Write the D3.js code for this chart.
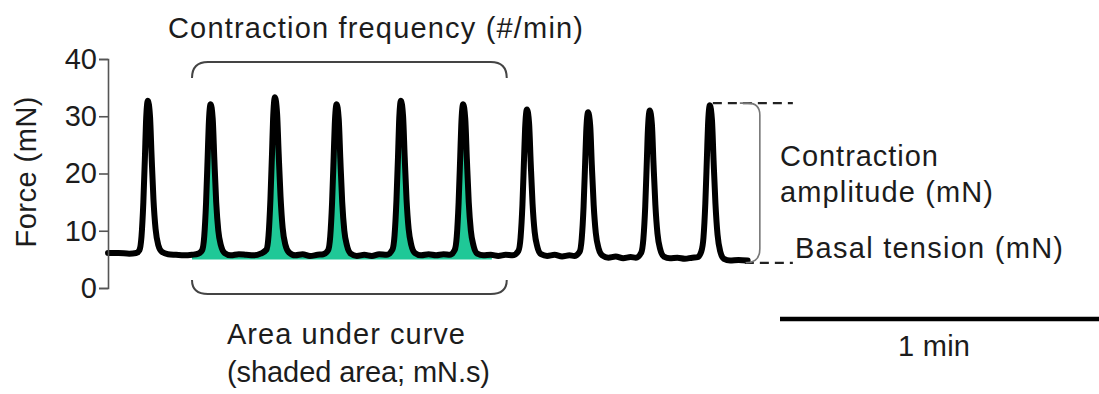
<!DOCTYPE html>
<html>
<head>
<meta charset="utf-8">
<script src="https://cdn.jsdelivr.net/npm/d3@7/dist/d3.min.js"></script>
<style>
  html, body { margin: 0; padding: 0; background: #fff; }
  svg { display: block; }
  text { font-family: "Liberation Sans", Arial, sans-serif; fill: #1c1c1c; }
</style>
</head>
<body>
<svg id="chart" width="1099" height="394"></svg>
<script>
// Force recording: time (s) and force (mN)
const traceTime = [
  0, 2.0, 4.0, 5.3,
  5.9, 6.3, 6.65, 6.95, 7.15, 7.5, 7.9, 8.2, 8.55, 8.95, 9.45, 10.15,
  11.3, 12.8, 14.3, 15.8, 17.0,
  17.7, 18.1, 18.45, 18.75, 18.95, 19.3, 19.7, 20.0, 20.35, 20.75, 21.25, 21.95,
  23.1, 24.6, 26.0, 27.4, 28.7,
  29.8, 30.2, 30.55, 30.85, 31.05, 31.4, 31.8, 32.1, 32.45, 32.85, 33.35, 34.05,
  35.2, 36.6, 38.0, 39.4, 40.5,
  41.4, 41.8, 42.15, 42.45, 42.65, 43.0, 43.4, 43.7, 44.05, 44.45, 44.95, 45.65,
  46.8, 48.2, 49.6, 51.0, 52.4,
  53.5, 53.9, 54.25, 54.55, 54.75, 55.1, 55.5, 55.8, 56.15, 56.55, 57.05, 57.75,
  58.9, 60.3, 61.7, 63.1, 64.3,
  65.2, 65.6, 65.95, 66.25, 66.45, 66.8, 67.2, 67.5, 67.85, 68.25, 68.75, 69.45,
  70.6, 72.0, 73.4, 74.8, 76.1,
  77.2, 77.6, 77.95, 78.25, 78.45, 78.8, 79.2, 79.5, 79.85, 80.25, 80.75, 81.45,
  82.6, 84.0, 85.4, 86.8, 87.7,
  88.7, 89.1, 89.45, 89.75, 89.95, 90.3, 90.7, 91.0, 91.35, 91.75, 92.25, 92.95,
  94.1, 95.5, 96.9, 98.3, 99.3,
  100.3, 100.7, 101.05, 101.35, 101.55, 101.9, 102.3, 102.6, 102.95, 103.35, 103.85, 104.55,
  105.7, 107.1, 108.5, 109.9, 110.9,
  111.6, 112.0, 112.35, 112.65, 112.85, 113.2, 113.6, 113.9, 114.25, 114.65, 115.15, 115.85,
  117.0, 118.6, 120.3
];
const traceForce = [
  6.1, 6.1, 6.0, 6.1,
  6.6, 9.0, 15.0, 23.0, 29.0, 32.7, 30.0, 23.0, 15.5, 10.3, 7.5, 6.3,
  5.9, 5.8, 5.7, 5.8, 6.0,
  6.6, 9.0, 15.0, 23.0, 28.5, 32.1, 29.5, 22.5, 15.0, 10.0, 7.4, 6.1,
  5.7, 5.9, 5.8, 5.7, 6.0,
  6.7, 9.2, 15.5, 23.5, 29.5, 33.3, 30.5, 23.5, 16.0, 10.5, 7.6, 6.2,
  5.7, 5.9, 5.6, 5.8, 5.9,
  6.6, 9.0, 15.0, 23.0, 28.5, 32.1, 29.5, 22.5, 15.0, 10.0, 7.4, 6.0,
  5.6, 5.8, 5.6, 5.9, 5.8,
  6.7, 9.2, 15.2, 23.0, 29.0, 32.7, 30.0, 23.0, 15.5, 10.3, 7.5, 6.1,
  5.7, 5.9, 5.7, 5.9, 5.8,
  6.6, 9.0, 15.0, 23.0, 28.5, 32.1, 29.5, 22.5, 15.0, 10.0, 7.4, 6.0,
  5.7, 5.8, 5.6, 5.8, 5.7,
  6.5, 8.8, 14.5, 22.5, 27.8, 31.2, 28.8, 22.0, 14.8, 9.8, 7.2, 5.9,
  5.6, 5.8, 5.5, 5.7, 5.6,
  6.3, 8.6, 14.2, 22.0, 27.3, 30.7, 28.3, 21.5, 14.5, 9.6, 7.0, 5.7,
  5.3, 5.5, 5.2, 5.4, 5.3,
  6.2, 8.6, 14.3, 22.2, 27.6, 31.0, 28.6, 21.8, 14.6, 9.5, 6.8, 5.5,
  5.2, 5.3, 5.1, 5.3, 5.4,
  6.4, 8.8, 14.8, 22.8, 28.3, 31.9, 29.3, 22.3, 14.8, 9.3, 6.4, 5.1,
  4.8, 4.9, 4.8
];

// Y axis ticks (mN)
const yTicks = [0, 10, 20, 30, 40];

// Annotated windows (s) and levels (mN)
const shadeWindow = [15.8, 72.2];
const braceWindow = [15.8, 75.0];
const shadeFloor = 5.0;
const lastPeakTime = 113.2;
const amplitudeTop = 32.3;
const basalLevel = 4.4;
const scaleBarSeconds = 60;

const svg = d3.select("#chart");

const x = d3.scaleLinear().domain([0, 60]).range([108, 427]);
const y = d3.scaleLinear().domain([0, 40]).range([288, 59]);

const data = traceTime.map((t, i) => ({ t, f: traceForce[i] }));

// Shaded area under the curve, clipped to the analysis window
svg.append("clipPath").attr("id", "shade-clip")
  .append("rect")
  .attr("x", x(shadeWindow[0]))
  .attr("width", x(shadeWindow[1]) - x(shadeWindow[0]))
  .attr("y", 0).attr("height", 394);

const area = d3.area()
  .x(d => x(d.t))
  .y0(y(shadeFloor))
  .y1(d => y(d.f))
  .curve(d3.curveMonotoneX);

svg.append("path")
  .datum(data)
  .attr("d", area)
  .attr("clip-path", "url(#shade-clip)")
  .attr("fill", "#1fc897");

// Force trace
const line = d3.line()
  .x(d => x(d.t))
  .y(d => y(d.f))
  .curve(d3.curveMonotoneX);

svg.append("path")
  .datum(data)
  .attr("d", line)
  .attr("fill", "none")
  .attr("stroke", "#000")
  .attr("stroke-width", 6)
  .attr("stroke-linejoin", "round")
  .attr("stroke-linecap", "round");

// Y axis
const yAxis = d3.axisLeft(y).tickValues(yTicks).tickSize(9).tickPadding(2);
const gy = svg.append("g").attr("transform", `translate(${x(0)},0)`).call(yAxis);
gy.select(".domain").attr("stroke", "#555").attr("stroke-width", 1.6);
gy.selectAll(".tick line").attr("stroke", "#555").attr("stroke-width", 1.6);
gy.selectAll(".tick text")
  .attr("font-family", "Liberation Sans, Arial, sans-serif")
  .attr("font-size", 29)
  .attr("fill", "#222");

svg.append("text")
  .attr("transform", `translate(36,172) rotate(-90)`)
  .attr("text-anchor", "middle")
  .attr("font-size", 29)
  .attr("textLength", 151)
  .text("Force (mN)");

// Top brace: contraction frequency
const bx0 = x(braceWindow[0]), bx1 = x(braceWindow[1]);
const r = 16;
svg.append("path")
  .attr("d", `M${bx0},78 Q${bx0},62 ${bx0 + r},62 H${bx1 - r} Q${bx1},62 ${bx1},78`)
  .attr("fill", "none").attr("stroke", "#444").attr("stroke-width", 2);

svg.append("text")
  .attr("x", 168).attr("y", 38)
  .attr("font-size", 29)
  .attr("textLength", 415)
  .text("Contraction frequency (#/min)");

// Bottom brace: area under curve
svg.append("path")
  .attr("d", `M${bx0},280 Q${bx0},294 ${bx0 + r},294 H${bx1 - r} Q${bx1},294 ${bx1},280`)
  .attr("fill", "none").attr("stroke", "#444").attr("stroke-width", 2);

svg.append("text")
  .attr("x", 227).attr("y", 344)
  .attr("font-size", 29)
  .attr("textLength", 238)
  .text("Area under curve");

svg.append("text")
  .attr("x", 227).attr("y", 382)
  .attr("font-size", 29)
  .attr("textLength", 263)
  .text("(shaded area; mN.s)");

// Amplitude bracket and reference lines
const dashStart = x(lastPeakTime) + 3;
const dashEnd = x(lastPeakTime) + 83;
const yTop = y(amplitudeTop), yBot = y(basalLevel);
const vx = x(lastPeakTime) + 50;

svg.append("line")
  .attr("x1", dashStart).attr("x2", dashEnd)
  .attr("y1", yTop).attr("y2", yTop)
  .attr("stroke", "#222").attr("stroke-width", 2.2)
  .attr("stroke-dasharray", "9,6");

svg.append("line")
  .attr("x1", x(lastPeakTime) + 35).attr("x2", dashEnd)
  .attr("y1", yBot).attr("y2", yBot)
  .attr("stroke", "#222").attr("stroke-width", 2.2)
  .attr("stroke-dasharray", "9,6");

svg.append("path")
  .attr("d", `M${vx - 20},${yTop} H${vx - 12} Q${vx},${yTop} ${vx},${yTop + 12} V${yBot - 14} Q${vx},${yBot} ${vx - 14},${yBot}`)
  .attr("fill", "none").attr("stroke", "#777").attr("stroke-width", 1.6);

svg.append("text")
  .attr("x", 780).attr("y", 166)
  .attr("font-size", 29)
  .attr("textLength", 158)
  .text("Contraction");

svg.append("text")
  .attr("x", 780).attr("y", 202)
  .attr("font-size", 29)
  .attr("textLength", 213)
  .text("amplitude (mN)");

svg.append("text")
  .attr("x", 795).attr("y", 258)
  .attr("font-size", 29)
  .attr("textLength", 268)
  .text("Basal tension (mN)");

// Time scale bar
const sbX = 780;
const sbW = x(scaleBarSeconds) - x(0);
svg.append("line")
  .attr("x1", sbX).attr("x2", sbX + sbW)
  .attr("y1", 319).attr("y2", 319)
  .attr("stroke", "#000").attr("stroke-width", 4.5);

svg.append("text")
  .attr("x", 934).attr("y", 356)
  .attr("text-anchor", "middle")
  .attr("font-size", 29)
  .attr("textLength", 72)
  .text("1 min");
</script>
</body>
</html>
